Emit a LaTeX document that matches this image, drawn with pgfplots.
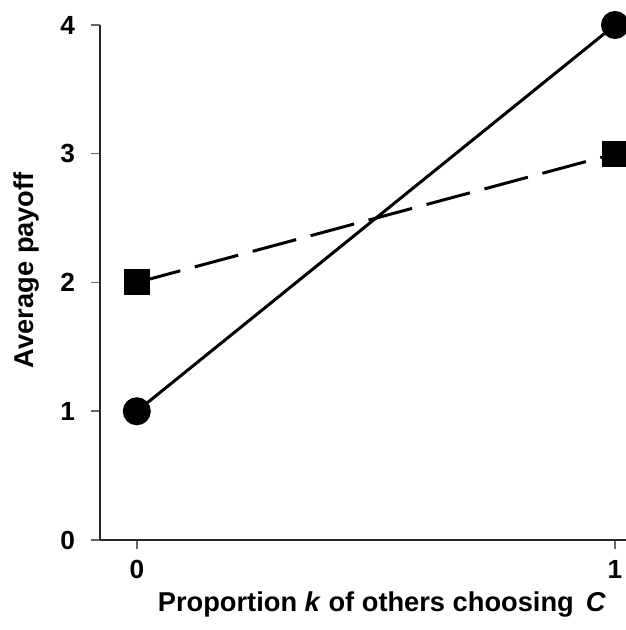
\documentclass[border=0pt]{standalone}
\usepackage{fontspec}
\setmainfont{Liberation Sans}
\usepackage{pgfplots}
\pgfplotsset{compat=1.18}
\begin{document}
\begin{tikzpicture}
\useasboundingbox (0,0) rectangle (250.4pt,252pt);
\clip (0,0) rectangle (250.4pt,252pt);
\begin{axis}[
  at={(40pt,36pt)}, anchor=south west,
  scale only axis, width=210.4pt, height=206pt,
  xmin=-0.077, xmax=1.023, ymin=0, ymax=4,
  axis x line=bottom, axis y line=left,
  axis line style={-, line width=1.1pt, black!85},
  xtick={0,1}, ytick={0,1,2,3,4},
  tick align=outside, major tick length=3.5pt,
  tick style={black!60, line width=0.6pt},
  /pgf/number format/assume math mode=true,
  ticklabel style={font=\bfseries\fontsize{10.5}{12}\selectfont},
  xticklabel style={yshift=-1pt},
  yticklabel style={xshift=-3pt},
  xlabel={\bfseries Proportion \textit{k} of others choosing\, \textit{C}},
  ylabel={\bfseries Average payoff},
  label style={font=\bfseries\fontsize{10.9}{13}\selectfont},
  xlabel style={at={(axis description cs:0.536,-0.126)}, anchor=center},
  ylabel style={at={(axis description cs:-0.14,0.524)}, anchor=center, rotate=0},
  clip=false,
]
\addplot[black, line width=1.2pt, mark=*, mark size=5pt] coordinates {(0,1) (1,4)};
\addplot[black, line width=1.2pt, dash pattern=on 18pt off 6pt, mark=square*, mark size=4.6pt, mark options={solid}] coordinates {(0,2) (1,3)};
\end{axis}
\end{tikzpicture}
\end{document}
